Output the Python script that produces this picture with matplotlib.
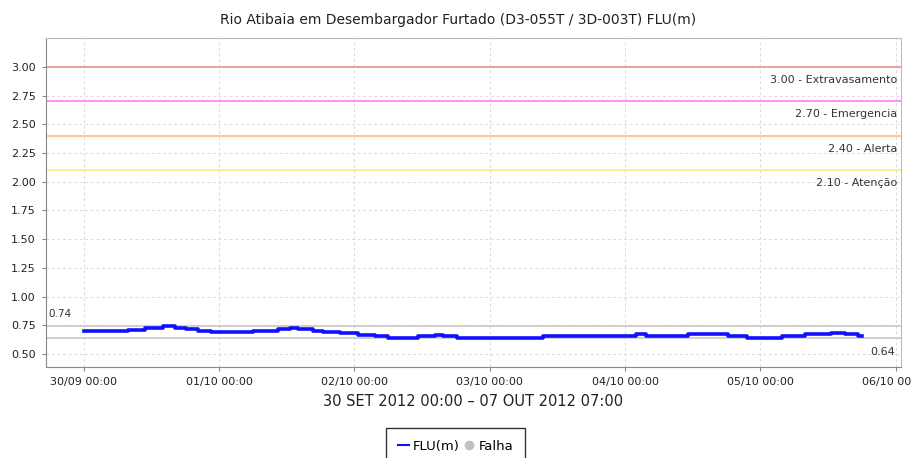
import datetime as dt
import matplotlib
matplotlib.use("Agg")
import matplotlib.pyplot as plt
import matplotlib.dates as mdates
from matplotlib.lines import Line2D

# leituras do nivel (horas desde 30/09 00:00, nivel em m)
horas = [0, 7.9, 10.8, 14.1, 16.1, 18.2, 20.3, 22.6, 30.0, 34.5, 36.5, 38.0,
         40.7, 42.5, 45.5, 48.7, 51.6, 54.0, 59.3, 62.2, 63.7, 66.1, 81.5,
         98.0, 99.7, 107.2, 114.3, 117.6, 123.8, 128.0, 132.6, 135.0, 137.3, 138.0]
nivel = [0.70, 0.71, 0.73, 0.74, 0.73, 0.715, 0.70, 0.69, 0.70, 0.715, 0.73, 0.715,
         0.70, 0.69, 0.68, 0.67, 0.655, 0.64, 0.655, 0.67, 0.655, 0.64, 0.657,
         0.671, 0.657, 0.673, 0.657, 0.64, 0.657, 0.673, 0.684, 0.671, 0.66, 0.66]

# cotas de referencia
cotas = [3.00, 2.70, 2.40, 2.10]
cotas_nomes = ["Extravasamento", "Emergencia", "Alerta", "Atenção"]
cotas_cores = ["#f08080", "#ff66ff", "#ffb070", "#ffe866"]

nivel_max = 0.74
nivel_min = 0.64

inicio = dt.datetime(2012, 9, 30)
tempos = [inicio + dt.timedelta(hours=h) for h in horas]

plt.rcParams['font.family'] = ['DejaVu Sans']

fig = plt.figure(figsize=(9.11, 4.58), dpi=100)
ax = fig.add_axes([0.050, 0.1987, 0.9387, 0.719])

ax.set_xlim(inicio - dt.timedelta(hours=6.8), inicio + dt.timedelta(days=6.037))
ax.set_ylim(0.387, 3.255)

# linhas de cota
for c, nome, cor in zip(cotas, cotas_nomes, cotas_cores):
    ax.axhline(c, color=cor, lw=1.3, alpha=0.8, zorder=2)
    ax.annotate("%.2f - %s" % (c, nome), xy=(1, c), xycoords=('axes fraction', 'data'),
                xytext=(-3, -13), textcoords='offset pixels', ha='right', va='center',
                fontsize=8, color='#333333')

# linhas de maximo e minimo
ax.axhline(nivel_max, color='#c8c8c8', lw=1.2, zorder=2)
ax.axhline(nivel_min, color='#c8c8c8', lw=1.2, zorder=2)
ax.annotate("%.2f" % nivel_max, xy=(0, nivel_max), xycoords=('axes fraction', 'data'),
            xytext=(3, 12), textcoords='offset pixels', ha='left', va='center',
            fontsize=7.5, color='#333333')
ax.annotate("%.2f" % nivel_min, xy=(1, nivel_min), xycoords=('axes fraction', 'data'),
            xytext=(-6, -14), textcoords='offset pixels', ha='right', va='center',
            fontsize=8, color='#333333')

ax.step(tempos, nivel, where='post', color='#1010ff', lw=2.6, zorder=3)

ax.set_yticks([0.50, 0.75, 1.00, 1.25, 1.50, 1.75, 2.00, 2.25, 2.50, 2.75, 3.00])
ax.yaxis.set_major_formatter(matplotlib.ticker.FormatStrFormatter('%.2f'))
ax.xaxis.set_major_locator(mdates.DayLocator())
ax.xaxis.set_major_formatter(mdates.DateFormatter('%d/%m %H:%M'))
ax.tick_params(labelsize=8, length=3, color='#888888', labelcolor='#222222', pad=4)

ax.grid(True, color='#dcdcdc', ls=(0, (2.5, 2.5)), lw=0.8, zorder=0)
for lado in ['top', 'right']:
    ax.spines[lado].set_color('#bbbbbb')
for lado in ['left', 'bottom']:
    ax.spines[lado].set_color('#888888')

ax.set_title("Rio Atibaia em Desembargador Furtado (D3-055T / 3D-003T) FLU(m)",
             fontsize=10, color='#222222', pad=10, x=0.482)
ax.set_xlabel("30 SET 2012 00:00 – 07 OUT 2012 07:00", fontsize=10.5, color='#222222', labelpad=5)

itens = [Line2D([], [], color='#1010ff', lw=1.5),
         Line2D([], [], color='#c0c0c0', marker='o', ls='none', markersize=6)]
leg = fig.legend(itens, ["FLU(m)", "Falha"], loc='upper center', bbox_to_anchor=(0.5, 1 - 428 / 458),
                 ncol=2, frameon=True, fancybox=False, edgecolor='black', fontsize=9.5,
                 handlelength=0.9, handletextpad=0.25, columnspacing=0.3, borderpad=0.9,
                 borderaxespad=0)
leg.get_frame().set_linewidth(1.0)

fig.savefig("out.png", dpi=100)
